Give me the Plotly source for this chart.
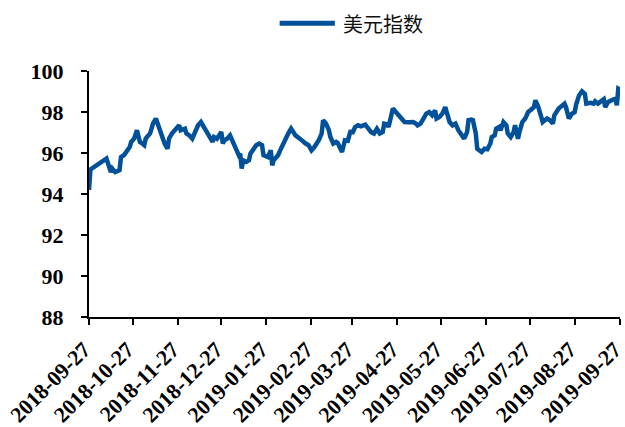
import plotly.graph_objects as go

# US Dollar Index, daily closes (approximate), Sep 2018 - Sep 2019
dates = [
    "2018-09-27", "2018-09-28", "2018-10-09", "2018-10-12", "2018-10-13", "2018-10-15",
    "2018-10-18", "2018-10-19", "2018-10-21", "2018-10-23", "2018-10-25", "2018-10-26",
    "2018-10-28", "2018-10-30", "2018-11-01", "2018-11-02", "2018-11-04", "2018-11-05",
    "2018-11-08", "2018-11-09", "2018-11-10", "2018-11-12", "2018-11-14", "2018-11-16",
    "2018-11-18", "2018-11-20", "2018-11-21", "2018-11-23", "2018-11-24", "2018-11-26",
    "2018-11-28", "2018-11-29", "2018-12-02", "2018-12-03", "2018-12-05", "2018-12-07",
    "2018-12-09", "2018-12-11", "2018-12-13", "2018-12-15", "2018-12-17", "2018-12-19",
    "2018-12-21", "2018-12-22", "2018-12-24", "2018-12-27", "2018-12-28", "2018-12-29",
    "2018-12-31", "2019-01-02", "2019-01-04", "2019-01-06", "2019-01-08", "2019-01-09",
    "2019-01-10", "2019-01-11", "2019-01-13", "2019-01-15", "2019-01-16", "2019-01-18",
    "2019-01-20", "2019-01-22", "2019-01-24", "2019-01-25", "2019-01-28", "2019-01-30",
    "2019-01-31", "2019-02-01", "2019-02-04", "2019-02-06", "2019-02-08", "2019-02-11",
    "2019-02-13", "2019-02-15", "2019-02-16", "2019-02-19", "2019-02-21", "2019-02-23",
    "2019-02-25", "2019-02-27", "2019-03-01", "2019-03-03", "2019-03-04", "2019-03-06",
    "2019-03-07", "2019-03-09", "2019-03-11", "2019-03-12", "2019-03-14", "2019-03-16",
    "2019-03-17", "2019-03-20", "2019-03-22", "2019-03-24", "2019-03-26", "2019-03-27",
    "2019-03-29", "2019-03-31", "2019-04-02", "2019-04-05", "2019-04-07", "2019-04-09",
    "2019-04-11", "2019-04-13", "2019-04-15", "2019-04-17", "2019-04-18", "2019-04-20",
    "2019-04-21", "2019-04-23", "2019-04-24", "2019-04-26", "2019-04-28", "2019-04-30",
    "2019-05-02", "2019-05-05", "2019-05-08", "2019-05-10", "2019-05-11", "2019-05-13",
    "2019-05-15", "2019-05-17", "2019-05-19", "2019-05-21", "2019-05-23", "2019-05-24",
    "2019-05-26", "2019-05-28", "2019-05-30", "2019-06-01", "2019-06-02", "2019-06-04",
    "2019-06-06", "2019-06-08", "2019-06-10", "2019-06-12", "2019-06-14", "2019-06-15",
    "2019-06-17", "2019-06-18", "2019-06-20", "2019-06-21", "2019-06-24", "2019-06-26",
    "2019-06-28", "2019-06-30", "2019-07-01", "2019-07-03", "2019-07-04", "2019-07-06",
    "2019-07-07", "2019-07-09", "2019-07-11", "2019-07-12", "2019-07-14", "2019-07-16",
    "2019-07-17", "2019-07-19", "2019-07-20", "2019-07-22", "2019-07-24", "2019-07-26",
    "2019-07-28", "2019-07-30", "2019-07-31", "2019-08-02", "2019-08-04", "2019-08-05",
    "2019-08-08", "2019-08-10", "2019-08-12", "2019-08-13", "2019-08-16", "2019-08-18",
    "2019-08-20", "2019-08-21", "2019-08-23", "2019-08-25", "2019-08-27", "2019-08-28",
    "2019-08-30", "2019-09-01", "2019-09-03", "2019-09-04", "2019-09-07", "2019-09-09",
    "2019-09-10", "2019-09-12", "2019-09-14", "2019-09-16", "2019-09-17", "2019-09-19",
    "2019-09-22", "2019-09-24", "2019-09-25", "2019-09-26", "2019-09-27",
]

usd_index = [
    94.20, 95.20, 95.73, 95.07, 95.24, 95.07,
    95.16, 95.80, 95.89, 96.13, 96.29, 96.54,
    96.70, 97.11, 96.54, 96.50, 96.38, 96.70,
    96.95, 97.19, 97.43, 97.68, 97.27, 96.86,
    96.46, 96.21, 96.70, 96.95, 97.02, 97.19,
    97.35, 97.11, 97.19, 96.95, 96.86, 96.70,
    97.02, 97.35, 97.51, 97.27, 97.11, 96.86,
    96.54, 96.78, 96.70, 97.02, 96.46, 96.62,
    96.70, 96.86, 96.46, 96.21, 95.89, 95.97,
    95.24, 95.64, 95.56, 95.64, 95.97, 96.21,
    96.38, 96.46, 96.38, 95.89, 95.80, 96.13,
    95.40, 95.64, 95.89, 96.21, 96.54, 96.95,
    97.19, 97.02, 96.86, 96.70, 96.54, 96.46,
    96.38, 96.13, 96.29, 96.46, 96.62, 96.95,
    97.60, 97.43, 97.11, 96.78, 96.46, 96.54,
    96.50, 96.05, 96.62, 96.60, 97.11, 96.95,
    97.27, 97.35, 97.30, 97.38, 97.19, 97.02,
    96.95, 97.18, 96.95, 97.02, 97.43, 97.40,
    97.27, 97.76, 98.17, 98.00, 97.84, 97.60,
    97.51, 97.50, 97.51, 97.43, 97.35, 97.43,
    97.68, 97.92, 98.00, 97.84, 98.08, 97.68,
    97.76, 97.92, 98.24, 97.84, 97.51, 97.35,
    97.43, 97.11, 96.86, 96.70, 97.02, 97.60,
    97.63, 97.60, 96.95, 96.21, 96.05, 96.21,
    96.18, 96.46, 96.78, 96.86, 97.19, 97.27,
    97.11, 97.51, 97.35, 96.95, 96.78, 97.02,
    97.35, 96.70, 97.02, 97.51, 97.68, 98.00,
    98.11, 98.24, 98.57, 98.24, 97.76, 97.51,
    97.68, 97.60, 97.43, 97.84, 98.17, 98.29,
    98.41, 98.24, 97.68, 97.91, 98.00, 98.36,
    98.81, 99.01, 98.88, 98.41, 98.45, 98.41,
    98.52, 98.41, 98.52, 98.62, 98.24, 98.49,
    98.60, 98.65, 98.33, 99.14, 99.10,
]

x_ticks = [
    "2018-09-27", "2018-10-27", "2018-11-27", "2018-12-27", "2019-01-27", "2019-02-27",
    "2019-03-27", "2019-04-27", "2019-05-27", "2019-06-27", "2019-07-27", "2019-08-27",
    "2019-09-27",
]
y_ticks = [88, 90, 92, 94, 96, 98, 100]

series_name = "美元指数"
line_color = "#00519A"
serif_family = "Times New Roman, Liberation Serif, DejaVu Serif, serif"
tick_font = dict(family=serif_family, size=22, color="black", weight=700)

fig = go.Figure()
fig.add_trace(go.Scatter(
    x=dates, y=usd_index, mode="lines", name=series_name,
    line=dict(color=line_color, width=4.5), showlegend=False,
))

# Legend key drawn above the plot area
fig.add_shape(type="line", xref="paper", yref="paper",
              x0=0.359, x1=0.463, y0=1.194, y1=1.194,
              line=dict(color=line_color, width=5))
fig.add_annotation(text=series_name, xref="paper", yref="paper",
                   x=0.474, y=1.194, xanchor="left", yanchor="middle",
                   showarrow=False,
                   font=dict(family="Noto Sans CJK SC", size=20, color="#111111"))

fig.update_layout(
    width=625, height=427,
    margin=dict(l=89, r=5, t=71, b=110, autoexpand=False),
    paper_bgcolor="white", plot_bgcolor="white",
    font=dict(family=serif_family, size=22, color="black"),
)
fig.update_xaxes(
    type="date", range=["2018-09-27", "2019-09-27 04:00"],
    tickvals=x_ticks, ticktext=x_ticks, tickangle=-45,
    showgrid=False, zeroline=False, automargin=False,
    showline=True, linecolor="black", linewidth=2,
    ticks="outside", ticklen=6, tickwidth=2, tickcolor="black",
    ticklabeloverflow="allow", ticklabelshift=-5, ticklabelstandoff=3,
    tickfont=tick_font,
)
fig.update_yaxes(
    range=[88, 100], tickvals=y_ticks, automargin=False,
    showgrid=False, zeroline=False,
    showline=True, linecolor="black", linewidth=2,
    ticks="outside", ticklen=6, tickwidth=2, tickcolor="black",
    ticklabelstandoff=13, tickfont=tick_font,
)

fig.write_html("out.html")
